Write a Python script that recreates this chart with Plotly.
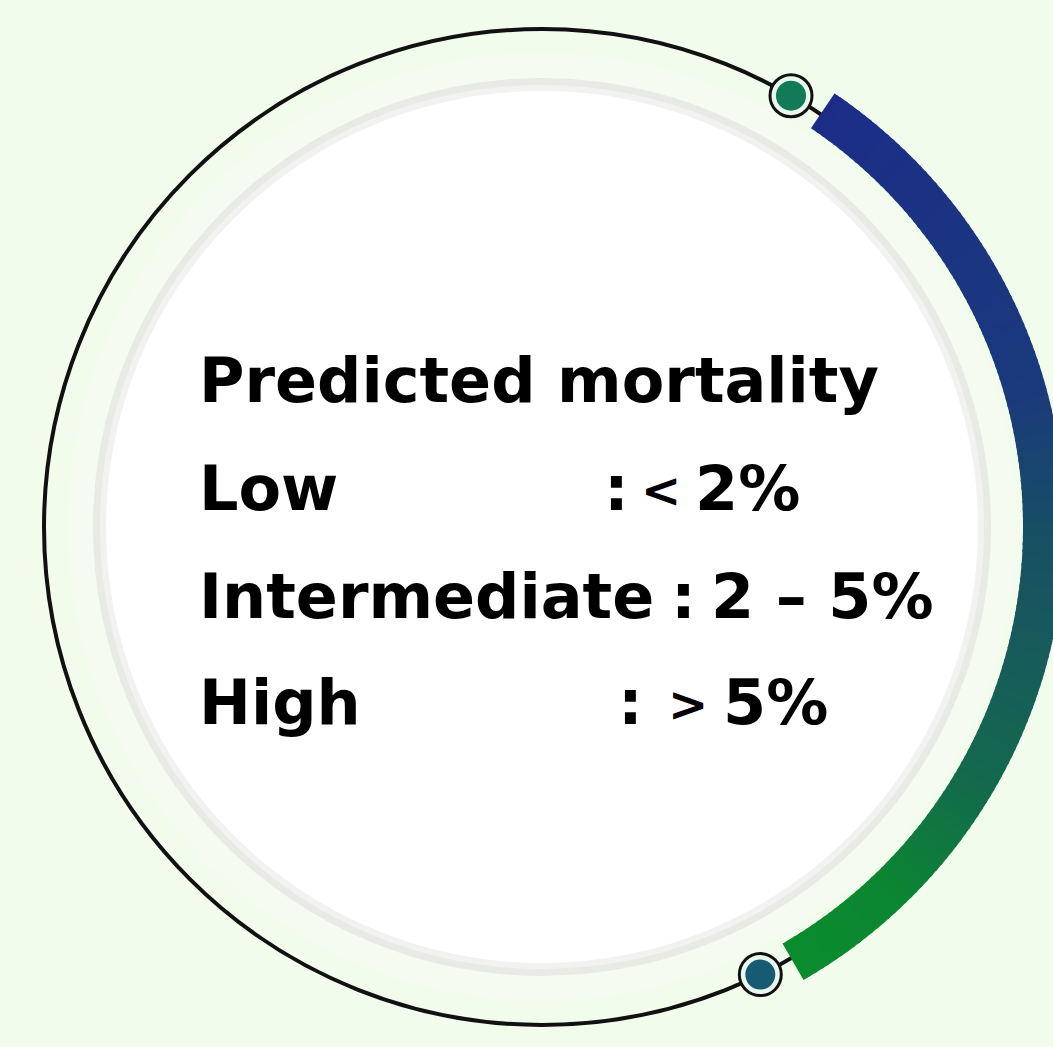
import numpy as np
import plotly.graph_objects as go

# ---- content ----
title = "Predicted mortality"
categories = ["Low", "Intermediate", "High"]
range_sign = ["<", "", ">"]
range_value = ["2%", "2 \u2013 5%", "5%"]

# gradient stops of the risk arc (position 0 = top end, 1 = bottom end)
arc_stop_pos = [0.0, 0.35, 0.5, 0.6, 0.75, 0.88, 1.0]
arc_stop_col = ["#1c2d88", "#1a3a7c", "#175062", "#175a5c", "#136a4c", "#0b8532", "#0a8c2d"]

W, H = 1053, 1047
cx, cy = 542, 527

fig = go.Figure()
shapes = []

def circ(r, fill=None, line=None, lw=0):
    d = dict(type="circle", xref="x", yref="y", x0=cx - r, x1=cx + r, y0=cy - r, y1=cy + r,
             layer="below")
    d["fillcolor"] = fill if fill else "rgba(0,0,0,0)"
    d["line"] = dict(color=line if line else "rgba(0,0,0,0)", width=lw)
    return d

# background glow rings and white disk
shapes.append(circ(474, fill="#f6fbf1"))
shapes.append(circ(449, fill="#e8ebe5"))
shapes.append(circ(442, fill="#f2f3f0"))
shapes.append(circ(436, fill="#ffffff"))
# black outer circle
shapes.append(circ(498, line="#111111", lw=4))

# gradient arc built from small annular sectors
def hex2rgb(h):
    h = h.lstrip("#")
    return np.array([int(h[i:i + 2], 16) for i in (0, 2, 4)], dtype=float)

stops_rgb = np.array([hex2rgb(c) for c in arc_stop_col])
a_start, a_end = 56.0, -60.0
r_in, r_out = 481.0, 523.0
n = 140
edges = np.linspace(a_start, a_end, n + 1)
for i in range(n):
    t = (i + 0.5) / n
    rgb = [np.interp(t, arc_stop_pos, stops_rgb[:, k]) for k in range(3)]
    col = "rgb(%d,%d,%d)" % tuple(int(round(v)) for v in rgb)
    a0 = np.radians(edges[i] + (0.15 if i > 0 else 0))
    a1 = np.radians(edges[i + 1] - (0.15 if i < n - 1 else 0))
    angs = np.linspace(a0, a1, 4)
    xs = list(cx + r_out * np.cos(angs)) + list(cx + r_in * np.cos(angs[::-1]))
    ys = list(cy - r_out * np.sin(angs)) + list(cy - r_in * np.sin(angs[::-1]))
    path = "M " + " L ".join(f"{x:.2f},{y:.2f}" for x, y in zip(xs, ys)) + " Z"
    shapes.append(dict(type="path", path=path, xref="x", yref="y", fillcolor=col,
                       line=dict(width=0), layer="above"))

# end markers on the black circle
for ang, fillc in [(60.0, "#117a56"), (-64.0, "#165b72")]:
    a = np.radians(ang)
    px, py = cx + 498 * np.cos(a), cy - 498 * np.sin(a)
    shapes.append(dict(type="circle", xref="x", yref="y", x0=px - 21, x1=px + 21, y0=py - 21, y1=py + 21,
                       fillcolor="#e9f7ee", line=dict(color="#111111", width=3), layer="above"))
    shapes.append(dict(type="circle", xref="x", yref="y", x0=px - 15, x1=px + 15, y0=py - 15, y1=py + 15,
                       fillcolor=fillc, line=dict(width=0), layer="above"))

fig.add_trace(go.Scatter(x=[0, W], y=[0, H], mode="markers", marker=dict(opacity=0),
                         hoverinfo="skip", showlegend=False))

FAM = "DejaVu Sans, sans-serif"
font = dict(family=FAM, size=62, color="#000000", weight=700)
sign_font = dict(family=FAM, size=48, color="#000000", weight=700)

def ann(x, y, text, f, xa="left"):
    return dict(x=x, y=y, xref="x", yref="y", text=text, showarrow=False,
                xanchor=xa, yanchor="middle", font=f)

annotations = [ann(197, 380, title, font)]
row_y = [488, 596, 702]
colon_x = [616, 683, 630]
sign_x = [661, 0, 688]
value_x = [693, 709, 721]
for cat, sg, val, yy, c_x, s_x, v_x in zip(categories, range_sign, range_value,
                                           row_y, colon_x, sign_x, value_x):
    annotations.append(ann(197, yy, cat, font))
    annotations.append(ann(c_x, yy, ":", font, "center"))
    if sg:
        annotations.append(ann(s_x, yy + 2, sg, sign_font, "center"))
    annotations.append(ann(v_x, yy, val, font))

fig.update_layout(
    width=W, height=H, margin=dict(l=0, r=0, t=0, b=0),
    paper_bgcolor="#f1fcec", plot_bgcolor="#f1fcec",
    xaxis=dict(range=[0, W], visible=False, fixedrange=True),
    yaxis=dict(range=[H, 0], visible=False, fixedrange=True),
    shapes=shapes, annotations=annotations, showlegend=False,
)
fig.write_html("out.html", config={"displayModeBar": False},
               post_script="document.body.style.margin='0px';document.body.style.background='#f1fcec';")
